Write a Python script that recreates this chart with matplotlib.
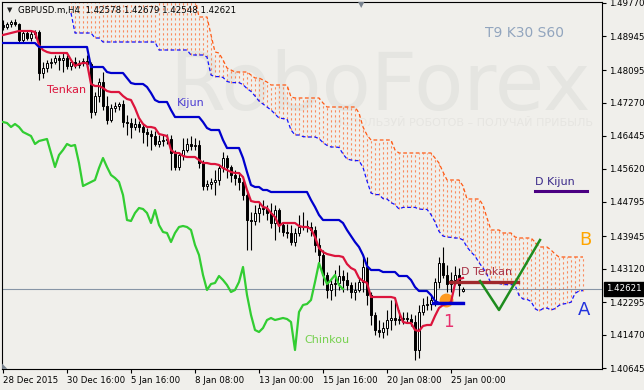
import numpy as np
import matplotlib.pyplot as plt

# GBPUSD.m H4, one entry per bar (bar 0 = 28 Dec 2015 00:00)
opens = [
    1.49220, 1.49170, 1.49245, 1.49295, 1.49245, 1.48845, 1.49020, 1.48895, 1.48995, 1.49045,
    1.48020, 1.48145, 1.48270, 1.48295, 1.48395, 1.48345, 1.48395, 1.48195, 1.48295, 1.48220,
    1.48270, 1.48320, 1.48245, 1.47045, 1.47445, 1.47795, 1.47195, 1.46845, 1.47145, 1.47195,
    1.47245, 1.46795, 1.46770, 1.46670, 1.46745, 1.46670, 1.46545, 1.46495, 1.46445, 1.46245,
    1.46320, 1.46345, 1.46370, 1.46020, 1.45670, 1.45970, 1.46095, 1.46245, 1.46195, 1.46220,
    1.45770, 1.45195, 1.45245, 1.45295, 1.45345, 1.45645, 1.45895, 1.45670, 1.45470, 1.45395,
    1.45295, 1.44970, 1.44345, 1.44320, 1.44520, 1.44645, 1.44620, 1.44520, 1.44270, 1.44595,
    1.44220, 1.44045, 1.44020, 1.43795, 1.44020, 1.44170, 1.44195, 1.44170, 1.44095, 1.43720,
    1.43470, 1.42970, 1.42595, 1.42745, 1.42770, 1.42945, 1.42845, 1.42720, 1.42545, 1.42595,
    1.42795, 1.43170, 1.42470, 1.41970, 1.41595, 1.41545, 1.41645, 1.41845, 1.41895, 1.41845,
    1.41870, 1.41895, 1.41870, 1.41795, 1.41095, 1.42045, 1.42220, 1.42245, 1.42345, 1.42795,
    1.43270, 1.42970, 1.42745, 1.42845, 1.42970, 1.42578]
highs = [
    1.49345, 1.49295, 1.49345, 1.49370, 1.49270, 1.49070, 1.49095, 1.49070, 1.49095, 1.49095,
    1.48295, 1.48345, 1.48395, 1.48470, 1.48470, 1.48520, 1.48470, 1.48345, 1.48420, 1.48345,
    1.48395, 1.48470, 1.48295, 1.47545, 1.47895, 1.48045, 1.47445, 1.47245, 1.47295, 1.47295,
    1.47345, 1.46970, 1.46895, 1.46895, 1.46820, 1.46745, 1.46645, 1.46595, 1.46570, 1.46470,
    1.46495, 1.46495, 1.46470, 1.46095, 1.46045, 1.46395, 1.46395, 1.46445, 1.46395, 1.46345,
    1.45845, 1.45345, 1.45395, 1.45595, 1.45720, 1.46045, 1.45970, 1.45720, 1.45595, 1.45545,
    1.45345, 1.45095, 1.44545, 1.44720, 1.44770, 1.44845, 1.44720, 1.44770, 1.44720, 1.44645,
    1.44295, 1.44245, 1.44220, 1.44145, 1.44470, 1.44545, 1.44345, 1.44295, 1.44195, 1.43895,
    1.43595, 1.43045, 1.42845, 1.43095, 1.43220, 1.43095, 1.43045, 1.42795, 1.42795, 1.42895,
    1.43420, 1.43420, 1.42545, 1.42045, 1.41845, 1.41795, 1.42095, 1.42345, 1.42345, 1.42095,
    1.42045, 1.42045, 1.41995, 1.41970, 1.42220, 1.42395, 1.42445, 1.42445, 1.42895, 1.43420,
    1.43670, 1.43220, 1.43045, 1.43195, 1.43145, 1.42679]
lows = [
    1.49095, 1.49120, 1.49170, 1.49195, 1.48770, 1.48795, 1.48845, 1.48820, 1.48895, 1.47845,
    1.47895, 1.48045, 1.48145, 1.48245, 1.48095, 1.48045, 1.48120, 1.48095, 1.48145, 1.48145,
    1.48195, 1.48170, 1.46895, 1.46970, 1.47295, 1.47095, 1.46745, 1.46795, 1.47045, 1.47095,
    1.46670, 1.46470, 1.46395, 1.46595, 1.46545, 1.46270, 1.46195, 1.46095, 1.46195, 1.46170,
    1.46195, 1.46245, 1.45595, 1.45595, 1.45595, 1.45845, 1.46045, 1.46095, 1.46095, 1.45645,
    1.45095, 1.45095, 1.45120, 1.44970, 1.45220, 1.45545, 1.45395, 1.45295, 1.45220, 1.45095,
    1.44845, 1.43595, 1.43595, 1.44220, 1.44295, 1.44470, 1.44345, 1.44145, 1.43845, 1.44045,
    1.43945, 1.43895, 1.43720, 1.43695, 1.43945, 1.44095, 1.44045, 1.43945, 1.43545, 1.43295,
    1.42720, 1.42395, 1.42345, 1.42445, 1.42595, 1.42545, 1.42595, 1.42395, 1.42345, 1.42545,
    1.42545, 1.42220, 1.41720, 1.41470, 1.41420, 1.41395, 1.41470, 1.41595, 1.41720, 1.41745,
    1.41745, 1.41770, 1.41695, 1.40845, 1.40895, 1.41970, 1.42095, 1.42095, 1.42195, 1.42645,
    1.42895, 1.42545, 1.42545, 1.42745, 1.42445, 1.42548]
closes = [
    1.49170, 1.49245, 1.49295, 1.49245, 1.48845, 1.49020, 1.48895, 1.48995, 1.49045, 1.48020,
    1.48145, 1.48270, 1.48295, 1.48395, 1.48345, 1.48395, 1.48195, 1.48295, 1.48220, 1.48270,
    1.48320, 1.48245, 1.47045, 1.47445, 1.47795, 1.47195, 1.46845, 1.47145, 1.47195, 1.47245,
    1.46795, 1.46770, 1.46670, 1.46745, 1.46670, 1.46545, 1.46495, 1.46445, 1.46245, 1.46320,
    1.46345, 1.46370, 1.46020, 1.45670, 1.45970, 1.46095, 1.46245, 1.46195, 1.46220, 1.45770,
    1.45195, 1.45245, 1.45295, 1.45345, 1.45645, 1.45895, 1.45670, 1.45470, 1.45395, 1.45295,
    1.44970, 1.44345, 1.44320, 1.44520, 1.44645, 1.44620, 1.44520, 1.44270, 1.44595, 1.44220,
    1.44045, 1.44020, 1.43795, 1.44020, 1.44170, 1.44195, 1.44170, 1.44095, 1.43720, 1.43470,
    1.42970, 1.42595, 1.42745, 1.42770, 1.42945, 1.42845, 1.42720, 1.42545, 1.42595, 1.42795,
    1.43170, 1.42470, 1.41970, 1.41595, 1.41545, 1.41645, 1.41845, 1.41895, 1.41845, 1.41870,
    1.41895, 1.41870, 1.41795, 1.41095, 1.42045, 1.42220, 1.42245, 1.42345, 1.42795, 1.43270,
    1.42970, 1.42745, 1.42845, 1.42970, 1.42720, 1.42621]

tenkan = [
    1.48970, 1.48995, 1.49020, 1.49045, 1.49070, 1.49070, 1.49070, 1.49070, 1.49045, 1.48720,
    1.48595, 1.48545, 1.48520, 1.48520, 1.48520, 1.48520, 1.48520, 1.48345, 1.48195, 1.48245,
    1.48270, 1.48270, 1.47745, 1.47695, 1.47695, 1.47645, 1.47570, 1.47545, 1.47545, 1.47545,
    1.47445, 1.47370, 1.47345, 1.47145, 1.46895, 1.46745, 1.46670, 1.46670, 1.46645, 1.46495,
    1.46470, 1.46445, 1.46095, 1.46020, 1.46020, 1.45945, 1.45920, 1.45920, 1.45920, 1.45845,
    1.45770, 1.45770, 1.45745, 1.45745, 1.45720, 1.45645, 1.45595, 1.45545, 1.45520, 1.45520,
    1.45420, 1.45095, 1.44820, 1.44795, 1.44795, 1.44670, 1.44645, 1.44520, 1.44420, 1.44195,
    1.44270, 1.44270, 1.44270, 1.44270, 1.44195, 1.44170, 1.44170, 1.44120, 1.43920, 1.43645,
    1.43545, 1.43495, 1.43470, 1.43445, 1.43445, 1.43420, 1.43245, 1.43145, 1.43095, 1.42895,
    1.42820, 1.42770, 1.42420, 1.42420, 1.42420, 1.42420, 1.42420, 1.42420, 1.42395, 1.42045,
    1.41795, 1.41770, 1.41770, 1.41595, 1.41570, 1.41695, 1.41720, 1.41720, 1.41945, 1.42145,
    1.42220, 1.42245, 1.42295, 1.42745, 1.42870, 1.42895]
kijun = [
    1.48770, 1.48770, 1.48770, 1.48770, 1.48770, 1.48770, 1.48770, 1.48770, 1.48770, 1.48670,
    1.48670, 1.48670, 1.48670, 1.48670, 1.48670, 1.48670, 1.48670, 1.48670, 1.48670, 1.48670,
    1.48670, 1.48670, 1.48170, 1.48170, 1.48170, 1.48170, 1.48045, 1.48020, 1.48020, 1.48020,
    1.48020, 1.47895, 1.47770, 1.47745, 1.47745, 1.47745, 1.47670, 1.47520, 1.47345, 1.47295,
    1.47295, 1.47295, 1.47095, 1.46920, 1.46920, 1.46920, 1.46920, 1.46920, 1.46920, 1.46920,
    1.46795, 1.46645, 1.46595, 1.46595, 1.46595, 1.46345, 1.46145, 1.46145, 1.46145, 1.46145,
    1.45895, 1.45545, 1.45220, 1.45170, 1.45170, 1.45095, 1.45095, 1.45045, 1.45045, 1.45045,
    1.45045, 1.45045, 1.45045, 1.45045, 1.45045, 1.45045, 1.45045, 1.44845, 1.44670, 1.44470,
    1.44345, 1.44345, 1.44345, 1.44345, 1.44345, 1.44270, 1.44095, 1.43945, 1.43795, 1.43670,
    1.43470, 1.43195, 1.43095, 1.43095, 1.43095, 1.43045, 1.43045, 1.43045, 1.43045, 1.42945,
    1.42945, 1.42945, 1.42845, 1.42670, 1.42570, 1.42570, 1.42570, 1.42470, 1.42320, 1.42270,
    1.42270, 1.42270, 1.42270, 1.42270, 1.42270, 1.42270]

# cloud, shifted 30 bars ahead; first value belongs to bar 17
cloud_from = 17
senkou_a = [
    1.49520, 1.49020, 1.49020, 1.49020, 1.49020, 1.49020, 1.48895, 1.48895, 1.48795, 1.48795,
    1.48795, 1.48795, 1.48795, 1.48795, 1.48795, 1.48795, 1.48795, 1.48795, 1.48795, 1.48795,
    1.48795, 1.48795, 1.48595, 1.48595, 1.48595, 1.48595, 1.48595, 1.48595, 1.48595, 1.48595,
    1.48470, 1.48470, 1.48470, 1.48470, 1.48420, 1.47970, 1.47930, 1.47930, 1.47910, 1.47810,
    1.47780, 1.47780, 1.47780, 1.47730, 1.47630, 1.47560, 1.47445, 1.47320, 1.47245, 1.47170,
    1.47095, 1.46995, 1.46895, 1.46880, 1.46870, 1.46595, 1.46470, 1.46470, 1.46430, 1.46420,
    1.46420, 1.46420, 1.46380, 1.46280, 1.46210, 1.46170, 1.46170, 1.46160, 1.45995, 1.45870,
    1.45845, 1.45830, 1.45830, 1.45660, 1.45320, 1.45020, 1.44980, 1.44980, 1.44880, 1.44870,
    1.44780, 1.44730, 1.44620, 1.44660, 1.44660, 1.44660, 1.44660, 1.44620, 1.44610, 1.44610,
    1.44480, 1.44295, 1.44060, 1.43945, 1.43920, 1.43910, 1.43895, 1.43895, 1.43845, 1.43670,
    1.43545, 1.43445, 1.43280, 1.43145, 1.42980, 1.42760, 1.42760, 1.42760, 1.42730, 1.42730,
    1.42730, 1.42720, 1.42460, 1.42370, 1.42360, 1.42310, 1.42130, 1.42070, 1.42130, 1.42145,
    1.42095, 1.42130, 1.42210, 1.42245, 1.42260, 1.42290, 1.42510, 1.42570, 1.42580]
senkou_b = [
    1.49900, 1.49900, 1.49900, 1.49900, 1.49900, 1.49900, 1.49900, 1.49900, 1.49900, 1.49900,
    1.49900, 1.49900, 1.49900, 1.49900, 1.49900, 1.49900, 1.49900, 1.49900, 1.49900, 1.49900,
    1.49900, 1.49900, 1.49900, 1.49900, 1.49900, 1.49900, 1.49900, 1.49900, 1.49900, 1.49900,
    1.49900, 1.49900, 1.49420, 1.49420, 1.49420, 1.48970, 1.48545, 1.48520, 1.48345, 1.48145,
    1.48095, 1.48045, 1.48045, 1.48045, 1.48045, 1.47970, 1.47895, 1.47895, 1.47845, 1.47795,
    1.47720, 1.47720, 1.47720, 1.47720, 1.47720, 1.47420, 1.47395, 1.47395, 1.47395, 1.47395,
    1.47395, 1.47395, 1.47395, 1.47270, 1.47170, 1.47170, 1.47170, 1.47170, 1.47170, 1.47170,
    1.47170, 1.47170, 1.47020, 1.46670, 1.46470, 1.46345, 1.46345, 1.46345, 1.46345, 1.46345,
    1.46345, 1.46095, 1.46020, 1.46020, 1.46020, 1.46020, 1.46020, 1.46020, 1.46020, 1.46020,
    1.46020, 1.45895, 1.45770, 1.45545, 1.45345, 1.45345, 1.45345, 1.45345, 1.45195, 1.44870,
    1.44870, 1.44870, 1.44870, 1.44720, 1.44395, 1.44095, 1.44095, 1.44095, 1.44020, 1.44020,
    1.44020, 1.43920, 1.43895, 1.43895, 1.43895, 1.43895, 1.43795, 1.43670, 1.43670, 1.43670,
    1.43595, 1.43495, 1.43420, 1.43420, 1.43420, 1.43420, 1.43420, 1.43420, 1.43420]
chinkou_shift = 30

date_ticks = [0, 16, 32, 48, 64, 80, 96, 112]
date_labels = ['28 Dec 2015', '30 Dec 16:00', '5 Jan 16:00', '8 Jan 08:00',
               '13 Jan 00:00', '15 Jan 16:00', '20 Jan 08:00', '25 Jan 00:00']
price_ticks = [1.49770, 1.48945, 1.48095, 1.47270, 1.46445, 1.45620,
               1.44795, 1.43945, 1.43120, 1.42295, 1.41470, 1.40645]

# analyst's marks
forecast_x = [119.25, 124.0, 134.25]
forecast_y = [1.42820, 1.42095, 1.43845]
d_kijun_x = [133.0, 146.0]
d_kijun_y = 1.45070
d_tenkan_x = [111.75, 128.75]
d_tenkan_y = 1.42795
kijun_mark_x = [107.5, 115.0]
cross_x, cross_y = 110.75, 1.42345

W, H = 644, 390
BG = '#f0efeb'


def bx(px):
    # screen pixel -> bar number
    return (px - 3) / 4


def py(pix):
    # screen pixel -> price
    return 1.49845 - 0.00025 * pix


fig = plt.figure(figsize=(W / 100, H / 100), dpi=100, facecolor=BG)
ax = fig.add_axes([2 / W, 21 / H, 600 / W, 367 / H], facecolor=BG)
ax.set_xlim(-0.25, 149.75)
ax.set_ylim(1.40620, 1.49795)

# watermark
ax.text(bx(380), py(110), 'RoboForex', fontsize=58, color='#e5e5e1',
        ha='center', va='baseline', zorder=0.5)
ax.text(bx(593), py(123), 'ИСПОЛЬЗУЙ РОБОТОВ – ПОЛУЧАЙ ПРИБЫЛЬ', fontsize=8,
        color='#e6e5e1', ha='right', va='center', zorder=0.5)

# cloud
kx = np.arange(cloud_from, cloud_from + len(senkou_a))
ax.vlines(kx, senkou_a, senkou_b, colors='#fa8a5c', linestyles=(0, (2, 2.5)),
          lw=0.8, zorder=1)
ax.plot(kx, senkou_b, color='#ff5a14', lw=0.9, ls=(0, (3, 2)), zorder=1.5)
ax.plot(kx, senkou_a, color='#1414ff', lw=0.9, ls=(0, (3, 2)), zorder=1.5)

# candles
o, h, l, c = (np.array(v) for v in (opens, highs, lows, closes))
x = np.arange(len(c))
up = c >= o
body = np.maximum(np.abs(c - o), 0.00004)
ax.vlines(x, l, h, color='black', lw=0.8, zorder=3)
ax.bar(x[up], body[up], bottom=o[up], width=0.7, facecolor='white',
       edgecolor='black', linewidth=0.7, zorder=4)
ax.bar(x[~up], body[~up], bottom=c[~up], width=0.7, facecolor='black',
       edgecolor='black', linewidth=0.7, zorder=4)

ax.axhline(closes[-1], color='#8795a6', lw=0.8, zorder=2.5)

# Ichimoku lines
ax.plot(cross_x, cross_y, 'o', ms=9, color='#ff9a1e', zorder=4.5)
ax.plot(x, tenkan, color='#dc143c', lw=1.6, zorder=5)
ax.plot(x, kijun, color='#0000cd', lw=1.6, zorder=5)
ax.plot(x[:len(c) - chinkou_shift], c[chinkou_shift:], color='#32cd32', lw=1.6, zorder=5)
ax.plot(kijun_mark_x, [kijun[-1]] * 2, color='#0000cd', lw=2.4, zorder=5)

ax.plot(d_tenkan_x, [d_tenkan_y] * 2, color='#a0282c', lw=2.4, zorder=6)
ax.plot(d_kijun_x, [d_kijun_y] * 2, color='#4b0082', lw=2.2, zorder=6)
ax.plot(forecast_x, forecast_y, color='#1e8c1e', lw=1.8, zorder=6)

# labels
lab = dict(fontsize=8, va='center', ha='left', zorder=7)
ax.text(bx(47), py(90), 'Tenkan', color='#dc143c', **lab)
ax.text(bx(177), py(103), 'Kijun', color='#4b3cd2', **lab)
ax.text(bx(304), py(340), 'Chinkou', color='#76d14f', **lab)
ax.text(bx(535), py(182), 'D Kijun', color='#3b2a8a', **lab)
ax.text(bx(461), py(272), 'D Tenkan', color='#a83246', **lab)
ax.text(bx(485), py(33), 'T9 K30 S60', color='#92a5be', fontsize=10,
        va='center', ha='left', zorder=7)
ax.text(bx(585), py(240), 'B', color='#ffa500', fontsize=13, ha='center', va='center', zorder=7)
ax.text(bx(584), py(310), 'A', color='#2233dd', fontsize=13, ha='center', va='center', zorder=7)
ax.text(bx(448), py(322), '1', color='#e8306e', fontsize=12, ha='center', va='center', zorder=7)

# axes look
for s in ax.spines.values():
    s.set_color('black')
    s.set_linewidth(0.8)
ax.yaxis.tick_right()
ax.set_yticks(price_ticks)
ax.set_yticklabels([f'{p:.5f}' for p in price_ticks])
ax.set_xticks(date_ticks)
ax.set_xticklabels(date_labels, ha='left')
ax.tick_params(axis='both', direction='out', length=3, width=0.8, labelsize=6.2,
               colors='black', pad=2)

ax.annotate(f'{closes[-1]:.5f}', xy=(1, closes[-1]), xycoords=('axes fraction', 'data'),
            xytext=(3, 0), textcoords='offset points', ha='left', va='center',
            fontsize=6.2, color='white', annotation_clip=False,
            bbox=dict(boxstyle='square,pad=0.3', fc='black', ec='black'))

title = f'GBPUSD.m,H4  {opens[-1]:.5f} {highs[-1]:.5f} {lows[-1]:.5f} {closes[-1]:.5f}'
fig.text(10 / W, 1 - 10 / H, '▼', fontsize=5, color='#202020', ha='center', va='center')
fig.text(18 / W, 1 - 10 / H, title, fontsize=6.2, color='black', ha='left', va='center')
fig.text(361 / W, 1 - 5 / H, '▼', fontsize=6, color='#7a8490', ha='center', va='center')
fig.text(5 / W, 1 - 366 / H, '◣', fontsize=5, color='#7a8490', ha='center', va='center')

fig.savefig('out.png', dpi=100, facecolor=BG)
